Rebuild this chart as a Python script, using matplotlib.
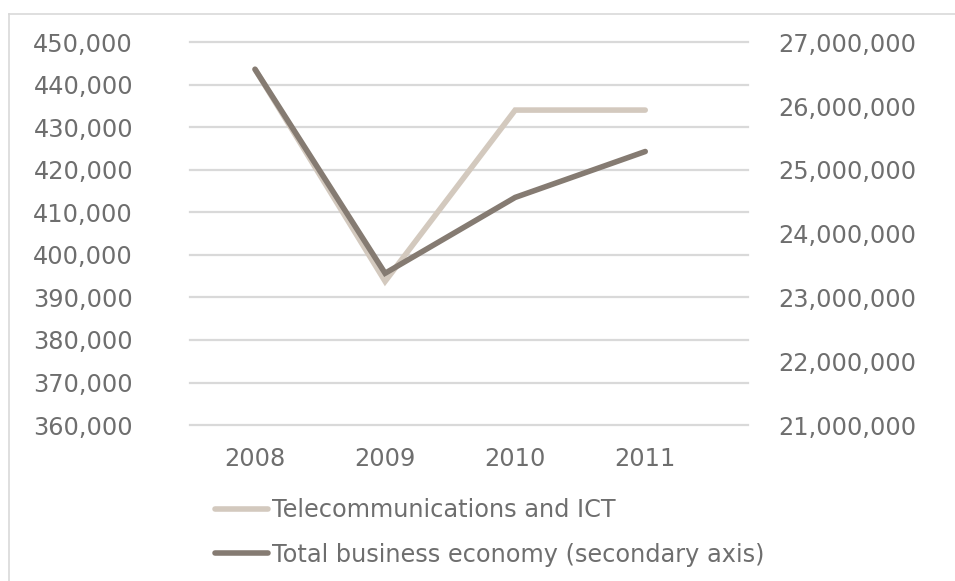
import numpy as np
import matplotlib.pyplot as plt
from matplotlib.lines import Line2D
from matplotlib.ticker import FuncFormatter

# Employment: telecom/ICT vs total business economy
years = ['2008', '2009', '2010', '2011']
telecom = [443700, 393800, 434100, 434100]
total_business = [26580000, 23380000, 24570000, 25290000]

left_ticks = np.arange(360000, 450001, 10000)
right_ticks = np.arange(21000000, 27000001, 1000000)

light = '#D3C9BE'
dark = '#857B72'
txt = '#6E6E6E'
grid = '#D9D9D9'

W, H = 955, 581
fig = plt.figure(figsize=(W / 100, H / 100), dpi=100)
ax = fig.add_axes([190 / W, 1 - 425 / H, (748 - 190) / W, (425 - 42.5) / H])
ax2 = ax.twinx()

x = np.arange(len(years))
l1, = ax.plot(x, telecom, color=light, lw=4, solid_capstyle='round',
              solid_joinstyle='miter', label='Telecommunications and ICT', zorder=3)
l2, = ax2.plot(x, total_business, color=dark, lw=4, solid_capstyle='round',
               solid_joinstyle='miter', label='Total business economy (secondary axis)', zorder=3)

ax.set_xlim(-0.5, 3.79)
ax.set_ylim(360000, 450000)
ax2.set_ylim(21000000, 27000000)
ax.set_yticks(left_ticks)
ax2.set_yticks(right_ticks)
ax.set_xticks(x)
ax.set_xticklabels(years)

fmt = FuncFormatter(lambda v, p: f'{v:,.0f}')
ax.yaxis.set_major_formatter(fmt)
ax2.yaxis.set_major_formatter(fmt)

# gridlines, not clipped so the top and bottom ones show fully
for v in left_ticks:
    ax.axhline(v, color=grid, lw=1.6, clip_on=False, zorder=1)

for a in (ax, ax2):
    for s in a.spines.values():
        s.set_visible(False)
    a.tick_params(length=0, labelsize=17.3, labelcolor=txt)
ax.tick_params(axis='y', pad=41)
ax2.tick_params(axis='y', pad=22)
ax.tick_params(axis='x', pad=16)

# put secondary line above primary grid
ax2.set_zorder(ax.get_zorder() + 1)
ax2.patch.set_visible(False)

leg = fig.legend(handles=[l1, l2], loc='center left',
                 bbox_to_anchor=(215 / W, 1 - 532.5 / H), frameon=False,
                 fontsize=17.3, handlelength=2.2, handletextpad=0.17,
                 labelspacing=0.85, borderpad=0, borderaxespad=0)
for t in leg.get_texts():
    t.set_color(txt)

# chart area border (left and top only visible)
fig.add_artist(Line2D([8.5 / W, 8.5 / W], [0, 1 - 13.5 / H], color='#D9D9D9', lw=1.2))
fig.add_artist(Line2D([8.5 / W, 1], [1 - 13.5 / H, 1 - 13.5 / H], color='#D9D9D9', lw=1.2))

fig.savefig('out.png', dpi=100)
